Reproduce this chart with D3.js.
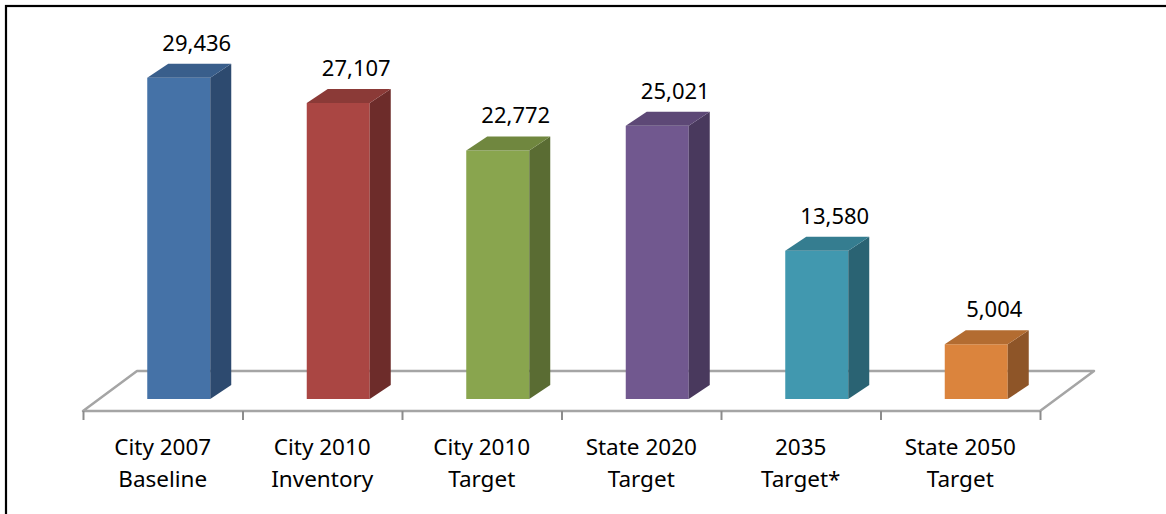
<!DOCTYPE html>
<html>
<head>
<meta charset="utf-8">
<script src="https://cdn.jsdelivr.net/npm/d3@7"></script>
<style>
  body { margin: 0; background: #fff; }
  svg { display: block; font-family: 'Noto Sans', sans-serif; }
</style>
</head>
<body>
<svg width="1166" height="514"></svg>
<script>
const categories = ['City 2007 Baseline', 'City 2010 Inventory', 'City 2010 Target', 'State 2020 Target', '2035 Target*', 'State 2050 Target'];
const labelLines = [['City 2007', 'Baseline'], ['City 2010', 'Inventory'], ['City 2010', 'Target'], ['State 2020', 'Target'], ['2035', 'Target*'], ['State 2050', 'Target']];
const values = [29436, 27107, 22772, 25021, 13580, 5004];
const frontColors = ['#4572a7', '#aa4643', '#89a54e', '#71588f', '#4198af', '#db843d'];
const sideColors = ['#2d4a6f', '#6d2c2a', '#5a6c33', '#49395d', '#2a6373', '#8e5528'];
const topColors = ['#395e8b', '#8b3a37', '#70873f', '#5d4876', '#357d90', '#b36c31'];

const svg = d3.select('svg');

// chart border (only left and top edges fall inside the window)
svg.append('rect')
    .attr('x', 6).attr('y', 6)
    .attr('width', 1180).attr('height', 530)
    .attr('fill', 'none')
    .attr('stroke', '#000')
    .attr('stroke-width', 2.2);

const floorY = 411;
const floorDx = 54, floorDy = -40;
const barDx = 21, barDy = -14;
const barOffX = 16, barOffY = -12;
const barW = 63;

const x = d3.scaleBand()
    .domain(categories)
    .range([83, 1040]);

const h = d3.scaleLinear()
    .domain([0, 30000])
    .range([0, 327.5]);

// floor
const x0 = x.range()[0], x1 = x.range()[1];
svg.append('polygon')
    .attr('points', [[x0, floorY], [x0 + floorDx, floorY + floorDy], [x1 + floorDx, floorY + floorDy], [x1, floorY]].join(' '))
    .attr('fill', '#fff')
    .attr('stroke', '#a5a5a5')
    .attr('stroke-width', 2.5)
    .attr('stroke-linejoin', 'round');

// category ticks
const edges = categories.map(c => x(c)).concat([x1]);
svg.append('g')
    .attr('transform', `translate(0, ${floorY})`)
    .call(d3.axisBottom(d3.scaleLinear().domain([x0, x1]).range([x0, x1]))
        .tickValues(edges).tickSize(9).tickFormat(''))
    .call(g => g.select('.domain').remove())
    .call(g => g.selectAll('.tick line').attr('stroke', '#8c8c8c').attr('stroke-width', 2));

// bars
const bars = svg.selectAll('g.bar')
    .data(values)
    .enter()
    .append('g')
    .classed('bar', true);

const geom = (d, i) => {
    const left = x(categories[i]) + (x.bandwidth() - barW) / 2 + barOffX;
    const right = left + barW;
    const base = floorY + barOffY;
    const top = base - h(d);
    return { left, right, base, top };
};

bars.append('polygon')
    .attr('points', (d, i) => {
        const g = geom(d, i);
        return [[g.left, g.base], [g.left, g.top], [g.right, g.top], [g.right, g.base]].join(' ');
    })
    .attr('fill', (d, i) => frontColors[i]);

bars.append('polygon')
    .attr('points', (d, i) => {
        const g = geom(d, i);
        return [[g.right, g.base], [g.right, g.top], [g.right + barDx, g.top + barDy], [g.right + barDx, g.base + barDy]].join(' ');
    })
    .attr('fill', (d, i) => sideColors[i]);

bars.append('polygon')
    .attr('points', (d, i) => {
        const g = geom(d, i);
        return [[g.left, g.top], [g.left + barDx, g.top + barDy], [g.right + barDx, g.top + barDy], [g.right, g.top]].join(' ');
    })
    .attr('fill', (d, i) => topColors[i]);

// value labels
bars.append('text')
    .attr('x', (d, i) => { const g = geom(d, i); return (g.left + g.right) / 2 + barDx - 3; })
    .attr('y', (d, i) => geom(d, i).top + barDy - 13)
    .attr('text-anchor', 'middle')
    .attr('font-size', 22)
    .attr('fill', '#000')
    .text(d => d3.format(',')(d));

// category labels
const labels = svg.selectAll('text.cat')
    .data(labelLines)
    .enter()
    .append('text')
    .classed('cat', true)
    .attr('x', (d, i) => x(categories[i]) + x.bandwidth() / 2)
    .attr('y', 455)
    .attr('text-anchor', 'middle')
    .attr('font-size', 22.5)
    .attr('fill', '#000');

labels.selectAll('tspan')
    .data(d => d)
    .enter()
    .append('tspan')
    .attr('x', function() { return d3.select(this.parentNode).attr('x'); })
    .attr('dy', (d, i) => i === 0 ? 0 : 32)
    .text(d => d);
</script>
</body>
</html>
